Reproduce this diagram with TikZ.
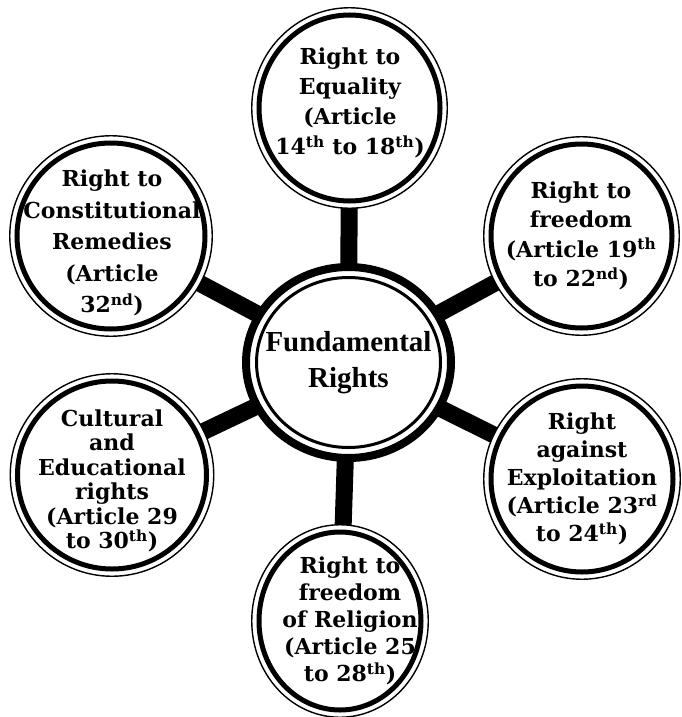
\documentclass[tikz,border=0pt]{standalone}
\usepackage{fontspec}
\setmainfont{DejaVu Serif}
\newfontfamily\hubfont{Liberation Serif}
\usetikzlibrary{shapes.geometric, positioning, backgrounds}

\tikzset{
  outring/.style={ellipse, draw, line width=1.4pt, fill=white, inner sep=0pt},
  inring/.style={ellipse, draw, line width=5pt, inner sep=0pt},
  rtext/.style={align=center, inner sep=0pt, font=\fontsize{22}{#1}\selectfont\bfseries},
  hubring/.style={ellipse, draw, line width=8pt, fill=white, inner sep=0pt},
  hubinner/.style={ellipse, draw, line width=3pt, inner sep=0pt},
  spoke/.style={line width=17pt},
}

\begin{document}
\begin{tikzpicture}[x=1pt, y=-1pt]
\useasboundingbox (0,0) rectangle (681,717);

% hub
\node[hubring, minimum width=205pt, minimum height=191pt] (fr) at (348.5,362.5) {};
\node[hubinner, minimum width=184pt, minimum height=170pt] (frin) at (fr) {};
\node[align=center, font=\fontsize{29}{36}\selectfont\hubfont\bfseries] (frt) at (fr) {Fundamental\\Rights};

% the six rights
\node[outring, minimum width=195.5pt, minimum height=200.5pt] (eq) at (349.5,108) {};
\node[inring, minimum width=181pt, minimum height=186pt] (eqin) at (eq) {};
\node[rtext=30pt] (eqt) at (350,103) {Right to\\Equality\\(Article\\14\textsuperscript{th} to 18\textsuperscript{th})};

\node[outring, minimum width=202.5pt, minimum height=200.5pt] (cr) at (111,236) {};
\node[inring, minimum width=188pt, minimum height=186pt] (crin) at (cr) {};
\node[rtext=31.5pt] (crt) at (112,243) {Right to\\Constitutional\\Remedies\\(Article\\32\textsuperscript{nd})};

\node[outring, minimum width=195.5pt, minimum height=198.5pt] (fd) at (581.5,236) {};
\node[inring, minimum width=181pt, minimum height=184pt] (fdin) at (fd) {};
\node[rtext=29.5pt] (fdt) at (581,236) {Right to\\freedom\\(Article 19\textsuperscript{th}\\to 22\textsuperscript{nd})};

\node[outring, minimum width=196.5pt, minimum height=200.5pt] (ex) at (582,479) {};
\node[inring, minimum width=182pt, minimum height=186pt] (exin) at (ex) {};
\node[rtext=28pt] (ext) at (582,479) {Right\\against\\Exploitation\\(Article 23\textsuperscript{rd}\\to 24\textsuperscript{th})};

\node[outring, minimum width=176.5pt, minimum height=192.5pt] (rel) at (340,621) {};
\node[inring, minimum width=162pt, minimum height=178pt] (relin) at (rel) {};
\node[rtext=27pt] (relt) at (350,621) {Right to\\freedom\\of Religion\\(Article 25\\to 28\textsuperscript{th})};

\node[outring, minimum width=203.5pt, minimum height=202.5pt] (ce) at (112,475) {};
\node[inring, minimum width=189pt, minimum height=188pt] (cein) at (ce) {};
\node[rtext=24.5pt] (cet) at (112,481) {Cultural\\and\\Educational\\rights\\(Article 29\\to 30\textsuperscript{th})};

% spokes
\begin{scope}[on background layer]
\draw[spoke] (fr.center) -- (eq.center);
\draw[spoke] (fr.center) -- (cr.center);
\draw[spoke] (fr.center) -- (fd.center);
\draw[spoke] (fr.center) -- (ex.center);
\draw[spoke] (fr.center) -- (rel.center);
\draw[spoke] (fr.center) -- (ce.center);
\end{scope}

\end{tikzpicture}
\end{document}
